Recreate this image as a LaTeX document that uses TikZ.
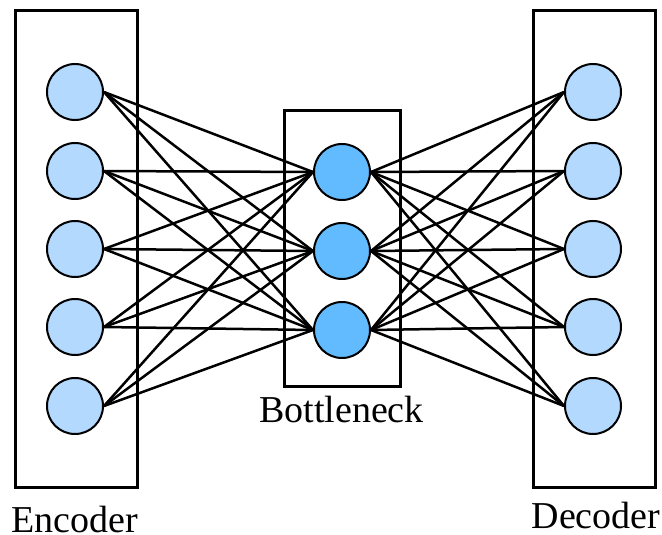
\documentclass[tikz,border=0pt]{standalone}
\usepackage{fontspec}
\setmainfont{Liberation Serif}
\begin{document}
\begin{tikzpicture}[x=1pt,y=-1pt,
  boxframe/.style={draw=black,line width=3pt},
  enc/.style={circle,draw=black,line width=2pt,fill=lightnode,minimum size=56pt,inner sep=0pt},
  bot/.style={circle,draw=black,line width=2pt,fill=darknode,minimum size=56pt,inner sep=0pt},
  link/.style={draw=black,line width=2.5pt},
  lbl/.style={font=\fontsize{38}{42}\selectfont,inner sep=0pt,anchor=base,text depth=0pt}
]
\definecolor{lightnode}{RGB}{179,217,255}
\definecolor{darknode}{RGB}{99,187,255}
\useasboundingbox (0,0) rectangle (662,535);
\draw[boxframe] (15,11) rectangle (137,487);
\draw[boxframe] (284,111) rectangle (400,386);
\draw[boxframe] (533,11) rectangle (655,487);
\foreach \i/\y in {1/92,2/171,3/249,4/327,5/406}{
  \node[enc] (e\i) at (75,\y) {};
  \node[enc] (d\i) at (593,\y) {};
}
\foreach \j/\y in {1/172,2/251,3/330}{
  \node[bot] (b\j) at (342,\y) {};
}
\foreach \i in {1,...,5}{
  \foreach \j in {1,2,3}{
    \draw[link] (e\i.east) -- (b\j.west);
    \draw[link] (b\j.east) -- (d\i.west);
  }
}
\node[lbl] (le) at (74.5,532) {Encoder};
\node[lbl] (lb) at (341.5,422) {Bottleneck};
\node[lbl] (ld) at (596,528) {Decoder};
\end{tikzpicture}
\end{document}
